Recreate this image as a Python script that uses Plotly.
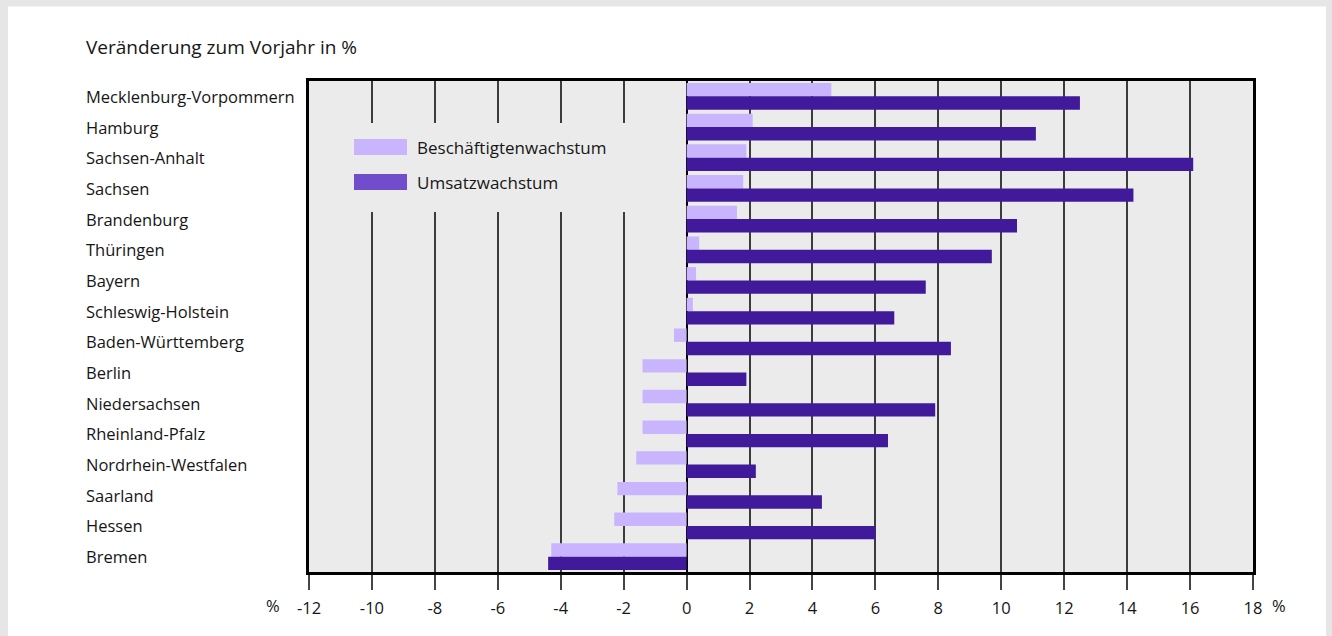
import plotly.graph_objects as go

laender = [
    "Mecklenburg-Vorpommern", "Hamburg", "Sachsen-Anhalt", "Sachsen", "Brandenburg",
    "Thüringen", "Bayern", "Schleswig-Holstein", "Baden-Württemberg", "Berlin",
    "Niedersachsen", "Rheinland-Pfalz", "Nordrhein-Westfalen", "Saarland", "Hessen", "Bremen",
]
beschaeftigte = [4.6, 2.1, 1.9, 1.8, 1.6, 0.4, 0.3, 0.2, -0.4, -1.4, -1.4, -1.4, -1.6, -2.2, -2.3, -4.3]
umsatz = [12.5, 11.1, 16.1, 14.2, 10.5, 9.7, 7.6, 6.6, 8.4, 1.9, 7.9, 6.4, 2.2, 4.3, 6.0, -4.4]
x_ticks = list(range(-12, 19, 2))

LIGHT = "#c9b4fe"
DARK = "#41199b"
DARK_KEY = "#714ccb"
PLOT_BG = "#ebebeb"
FRAME = "#e6e6e6"
TXT = "#161616"
FONT = "Open Sans, DejaVu Sans, sans-serif"

# page geometry (px) -> paper coords
L, R, T, B = 309, 79, 81, 64
W, H = 1332, 636
PW, PH = W - L - R, H - T - B


def px(x):
    return (x - L) / PW


def py(y):
    return (H - B - y) / PH


fig = go.Figure()
fig.add_trace(go.Bar(y=laender, x=beschaeftigte, orientation="h", name="Beschäftigtenwachstum",
                     marker=dict(color=LIGHT, line=dict(width=0))))
fig.add_trace(go.Bar(y=laender, x=umsatz, orientation="h", name="Umsatzwachstum",
                     marker=dict(color=DARK, line=dict(width=0))))

shapes = []
# grey page frame
shapes.append(dict(type="rect", xref="paper", yref="paper", x0=px(-10), x1=px(8), y0=py(H + 10), y1=py(-10),
                   fillcolor=FRAME, line=dict(width=0), layer="below"))
shapes.append(dict(type="rect", xref="paper", yref="paper", x0=px(-10), x1=px(W + 10), y0=py(6.5), y1=py(-10),
                   fillcolor=FRAME, line=dict(width=0), layer="below"))
shapes.append(dict(type="rect", xref="paper", yref="paper", x0=px(1326), x1=px(W + 10), y0=py(H + 10), y1=py(-10),
                   fillcolor=FRAME, line=dict(width=0), layer="below"))
# legend box hides gridlines (no bars in this area)
shapes.append(dict(type="rect", xref="paper", yref="paper", x0=px(330), x1=px(652), y0=py(212), y1=py(123),
                   fillcolor=PLOT_BG, line=dict(width=0), layer="above"))
# legend swatches
shapes.append(dict(type="rect", xref="paper", yref="paper", x0=px(354), x1=px(407), y0=py(155), y1=py(139),
                   fillcolor=LIGHT, line=dict(width=0), layer="above"))
shapes.append(dict(type="rect", xref="paper", yref="paper", x0=px(354), x1=px(407), y0=py(190), y1=py(174),
                   fillcolor=DARK_KEY, line=dict(width=0), layer="above"))

annotations = []
annotations.append(dict(text="Veränderung zum Vorjahr in %", xref="paper", yref="paper", x=px(84), y=py(47),
                        xanchor="left", yanchor="middle", showarrow=False, font=dict(size=19, color=TXT)))
for name in laender:
    annotations.append(dict(text=name, xref="paper", yref="y", x=px(84), y=name, xanchor="left",
                            yanchor="middle", showarrow=False, font=dict(size=16.5, color=TXT)))
annotations.append(dict(text="Beschäftigtenwachstum", xref="paper", yref="paper", x=px(415), y=py(147),
                        xanchor="left", yanchor="middle", showarrow=False, font=dict(size=17, color=TXT)))
annotations.append(dict(text="Umsatzwachstum", xref="paper", yref="paper", x=px(415), y=py(182),
                        xanchor="left", yanchor="middle", showarrow=False, font=dict(size=17, color=TXT)))
for xp in (273, 1279):
    annotations.append(dict(text="%", xref="paper", yref="paper", x=px(xp), y=py(605), xanchor="center",
                            yanchor="middle", showarrow=False, font=dict(size=16.5, color=TXT)))

fig.update_layout(
    width=W, height=H,
    margin=dict(l=L, r=R, t=T, b=B),
    paper_bgcolor="white",
    plot_bgcolor=PLOT_BG,
    barmode="group",
    bargap=0.13,
    bargroupgap=0,
    showlegend=False,
    font=dict(family=FONT, size=16, color=TXT),
    shapes=shapes,
    annotations=annotations,
    xaxis=dict(range=[-12, 18], tickvals=x_ticks, ticktext=[str(v) for v in x_ticks],
               showgrid=True, gridcolor="#3c3c3c", gridwidth=2,
               zeroline=True, zerolinecolor="black", zerolinewidth=2,
               ticks="outside", ticklen=15, tickwidth=2, tickcolor="#444", ticklabelstandoff=4,
               showline=True, linecolor="black", linewidth=2.5, mirror=True,
               tickfont=dict(size=16.5, color=TXT), fixedrange=True),
    yaxis=dict(categoryorder="array", categoryarray=laender, autorange="reversed",
               showticklabels=False, showgrid=False, ticks="",
               showline=True, linecolor="black", linewidth=2.5, mirror=True, fixedrange=True),
)

fig.write_html("out.html", config={"displayModeBar": False},
               post_script="document.body.style.margin='0';")
